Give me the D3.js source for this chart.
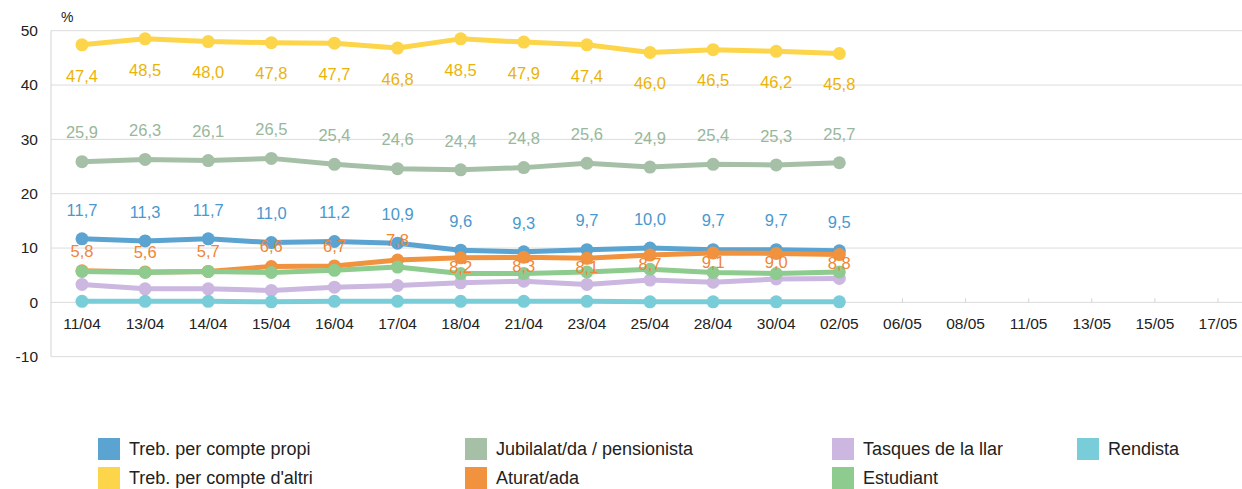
<!DOCTYPE html>
<html lang="ca">
<head>
<meta charset="UTF-8">
<title>Situació laboral</title>
<style>
  body { margin: 0; padding: 0; background: #fff; }
  svg { display: block; font-family: Arial, "Liberation Sans", sans-serif; }
</style>
</head>
<body>
<svg width="1242" height="489"></svg>
<script src="https://d3js.org/d3.v7.min.js"></script>
<script>
  // categories (dates on the x axis)
  const dates = ["11/04", "13/04", "14/04", "15/04", "16/04", "17/04", "18/04", "21/04", "23/04",
                 "25/04", "28/04", "30/04", "02/05", "06/05", "08/05", "11/05", "13/05", "15/05", "17/05"];

  // series values (only the first 13 dates have data)
  const propi    = [11.7, 11.3, 11.7, 11.0, 11.2, 10.9, 9.6, 9.3, 9.7, 10.0, 9.7, 9.7, 9.5];
  const altri    = [47.4, 48.5, 48.0, 47.8, 47.7, 46.8, 48.5, 47.9, 47.4, 46.0, 46.5, 46.2, 45.8];
  const jubilat  = [25.9, 26.3, 26.1, 26.5, 25.4, 24.6, 24.4, 24.8, 25.6, 24.9, 25.4, 25.3, 25.7];
  const aturat   = [5.8, 5.6, 5.7, 6.6, 6.7, 7.8, 8.2, 8.3, 8.1, 8.7, 9.1, 9.0, 8.8];
  const tasques  = [3.3, 2.5, 2.5, 2.2, 2.8, 3.1, 3.6, 3.9, 3.3, 4.1, 3.7, 4.3, 4.4];
  const estudiant = [5.7, 5.5, 5.7, 5.5, 5.9, 6.5, 5.3, 5.3, 5.6, 6.1, 5.5, 5.3, 5.6];
  const rendista = [0.2, 0.2, 0.2, 0.1, 0.2, 0.2, 0.2, 0.2, 0.2, 0.1, 0.1, 0.1, 0.1];

  const yTicks = [-10, 0, 10, 20, 30, 40, 50];

  // label side for the orange series: it flips once the line gets close to the blue one
  const aturatSide = ["up", "up", "up", "up", "up", "up", "down", "down", "down", "down", "down", "down", "down"];

  const series = [
    { name: "Treb. per compte propi", values: propi, color: "#5ba3d0", text: "#4a98cd", label: "up" },
    { name: "Treb. per compte d'altri", values: altri, color: "#fdd54a", text: "#eab308", label: "down" },
    { name: "Jubilalat/da / pensionista", values: jubilat, color: "#a6c0a8", text: "#98b79b", label: "up" },
    { name: "Aturat/ada", values: aturat, color: "#f0923e", text: "#f08536", label: aturatSide },
    { name: "Tasques de la llar", values: tasques, color: "#cbb7df", text: null },
    { name: "Estudiant", values: estudiant, color: "#8ecb8e", text: null },
    { name: "Rendista", values: rendista, color: "#79cdd8", text: null }
  ];

  const svg = d3.select("svg");

  const x = d3.scalePoint().domain(dates).range([82, 1218]);
  const y = d3.scaleLinear().domain([-10, 50]).range([356.7, 30.7]);
  const left = 51, right = 1242;

  // horizontal gridlines
  svg.append("g").selectAll("line")
    .data(yTicks)
    .enter().append("line")
    .attr("x1", left).attr("x2", right)
    .attr("y1", d => y(d)).attr("y2", d => y(d))
    .attr("stroke", "#dcdcdc").attr("stroke-width", 1);

  // left axis line
  svg.append("line")
    .attr("x1", left).attr("x2", left)
    .attr("y1", y(50)).attr("y2", y(-10))
    .attr("stroke", "#d4d4d4");

  // y tick labels
  svg.append("g").selectAll("text")
    .data(yTicks)
    .enter().append("text")
    .attr("x", 38).attr("y", d => y(d))
    .attr("dy", "0.35em")
    .attr("text-anchor", "end")
    .attr("font-size", 15.5)
    .attr("fill", "#222")
    .text(d => d);

  svg.append("text")
    .attr("x", 61).attr("y", 22)
    .attr("font-size", 14)
    .attr("fill", "#222")
    .text("%");

  // x axis at zero with small ticks
  svg.append("g").selectAll("line")
    .data(dates)
    .enter().append("line")
    .attr("x1", d => x(d)).attr("x2", d => x(d))
    .attr("y1", y(0)).attr("y2", y(0) - 4)
    .attr("stroke", "#d4d4d4");

  svg.append("g").selectAll("text")
    .data(dates)
    .enter().append("text")
    .attr("x", d => x(d)).attr("y", y(0) + 21)
    .attr("dy", "0.35em")
    .attr("text-anchor", "middle")
    .attr("font-size", 15.5)
    .attr("fill", "#222")
    .text(d => d);

  // lines and markers
  const line = d3.line()
    .x((d, i) => x(dates[i]))
    .y(d => y(d));

  series.forEach(s => {
    const g = svg.append("g");
    g.append("path")
      .datum(s.values)
      .attr("d", line)
      .attr("fill", "none")
      .attr("stroke", s.color)
      .attr("stroke-width", 5)
      .attr("stroke-linejoin", "round");
    g.selectAll("circle")
      .data(s.values)
      .enter().append("circle")
      .attr("cx", (d, i) => x(dates[i]))
      .attr("cy", d => y(d))
      .attr("r", 6.5)
      .attr("fill", s.color);
  });

  // value labels
  const fmt = v => d3.format(".1f")(v).replace(".", ",");
  series.filter(s => s.text).forEach(s => {
    svg.append("g").selectAll("text")
      .data(s.values)
      .enter().append("text")
      .attr("x", (d, i) => x(dates[i]))
      .attr("y", (d, i) => {
        const side = Array.isArray(s.label) ? s.label[i] : s.label;
        if (s.name === "Aturat/ada") return side === "up" ? y(d) - 20 : y(d) + 9;
        return side === "up" ? y(d) - 29 : y(d) + 31;
      })
      .attr("dy", "0.35em")
      .attr("text-anchor", "middle")
      .attr("font-size", 16.5)
      .attr("fill", s.text)
      .text(d => fmt(d));
  });

  // legend (rows: 4 columns, filled column by column)
  const legendCols = [98, 465, 832, 1077];
  const legendRows = [449, 478];
  const legendPos = [[0, 0], [0, 1], [1, 0], [1, 1], [2, 0], [2, 1], [3, 0]];

  const legend = svg.append("g").selectAll("g")
    .data(series)
    .enter().append("g")
    .attr("transform", (d, i) => `translate(${legendCols[legendPos[i][0]]},${legendRows[legendPos[i][1]]})`);

  legend.append("rect")
    .attr("x", 0).attr("y", -11)
    .attr("width", 22).attr("height", 22)
    .attr("fill", d => d.color);

  legend.append("text")
    .attr("x", 31).attr("y", 0)
    .attr("dy", "0.35em")
    .attr("font-size", 18)
    .attr("fill", "#222")
    .text(d => d.name);
</script>
</body>
</html>
